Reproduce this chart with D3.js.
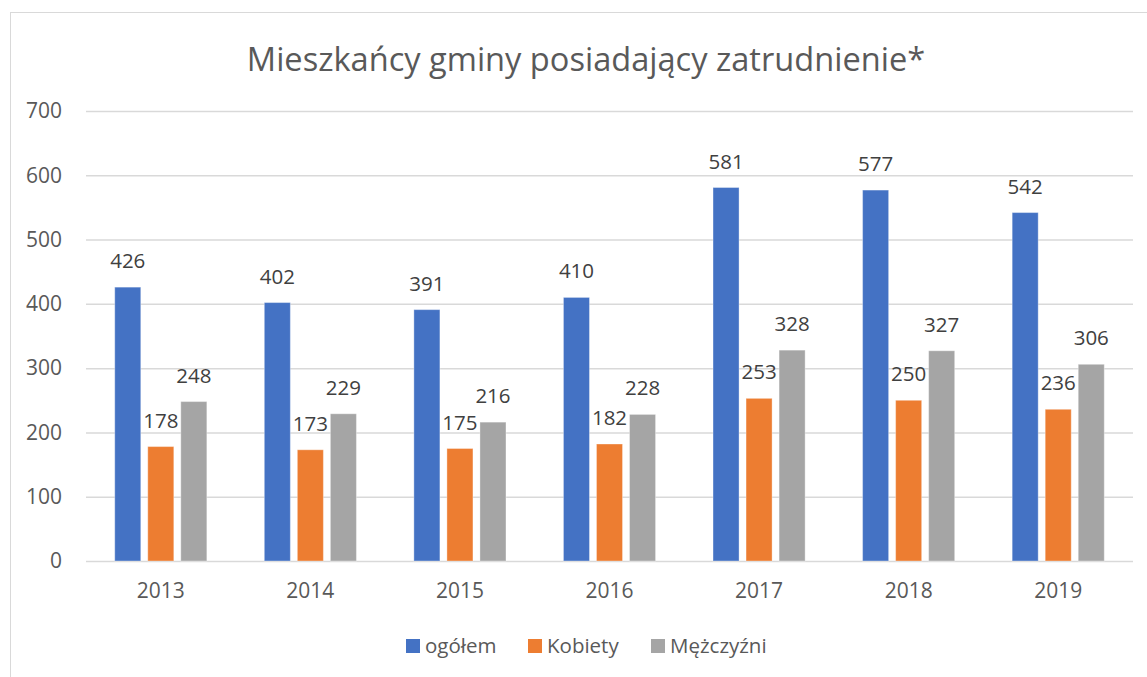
<!DOCTYPE html>
<html><head><meta charset="utf-8">
<script src="https://cdn.jsdelivr.net/npm/d3@7"></script>
<style>body{margin:0;background:#fff}svg{display:block;font-family:"Open Sans","Noto Sans",sans-serif}</style>
</head><body><svg id="c" width="1147" height="677"></svg>
<script>
const title = "Mieszkańcy gminy posiadający zatrudnienie*";
const years = ["2013","2014","2015","2016","2017","2018","2019"];
const seriesNames = ["ogółem","Kobiety","Mężczyźni"];
const ogolem = [426,402,391,410,581,577,542];
const kobiety = [178,173,175,182,253,250,236];
const mezczyzni = [248,229,216,228,328,327,306];
const colors = ["#4472C4","#ED7D31","#A5A5A5"];
const yTicks = [0,100,200,300,400,500,600,700];

const svg = d3.select("#c");
svg.append("rect").attr("x",10.5).attr("y",12.5).attr("width",1150).attr("height",700)
  .attr("fill","#fff").attr("stroke","#D9D9D9");

const x0 = d3.scaleBand().domain(years).range([86,1133]).paddingInner(0).paddingOuter(0);
const y = d3.scaleLinear().domain([0,700]).range([561,111]);
const x1 = d3.scaleBand().domain(seriesNames).range([0,x0.bandwidth()]).paddingInner(0.212).paddingOuter(0.87);

svg.append("text").attr("x",586).attr("y",71).attr("text-anchor","middle")
  .attr("font-size",32.6).attr("fill","#595959").text(title);

const yAxis = d3.axisLeft(y).tickValues(yTicks).tickSize(-(1133-86)).tickPadding(24);
const gy = svg.append("g").attr("transform","translate(86,0)").call(yAxis);
gy.select(".domain").remove();
gy.selectAll(".tick line").attr("stroke","#D9D9D9").attr("stroke-width",1.5);
gy.selectAll(".tick text").attr("font-size",21).attr("fill","#595959").attr("font-family","Open Sans");

const xAxis = d3.axisBottom(x0).tickSize(0).tickPadding(18);
const gx = svg.append("g").attr("transform","translate(0,561)").call(xAxis);
gx.select(".domain").remove();
gx.selectAll(".tick text").attr("font-size",21).attr("fill","#595959").attr("font-family","Open Sans").attr("dy","0.9em");

const all = [ogolem,kobiety,mezczyzni];
const rows = [];
years.forEach((yr,i)=>all.forEach((arr,j)=>rows.push({yr,s:seriesNames[j],v:arr[i],c:colors[j]})));

const g = svg.append("g");
g.selectAll("rect").data(rows).join("rect")
  .attr("x",d=>x0(d.yr)+x1(d.s)).attr("width",x1.bandwidth())
  .attr("y",d=>y(d.v)).attr("height",d=>y(0)-y(d.v))
  .attr("fill",d=>d.c).attr("stroke","#fff").attr("stroke-opacity",0.35).attr("stroke-width",1);
g.selectAll("text").data(rows).join("text")
  .attr("x",d=>x0(d.yr)+x1(d.s)+x1.bandwidth()/2).attr("y",d=>y(d.v)-19)
  .attr("text-anchor","middle").attr("font-size",20.5).attr("fill","#404040").text(d=>d.v);

const legX = [406,528,651];
const lg = svg.append("g");
seriesNames.forEach((s,i)=>{
  lg.append("rect").attr("x",legX[i]).attr("y",639).attr("width",14).attr("height",14).attr("fill",colors[i]);
  lg.append("text").attr("x",legX[i]+19).attr("y",653).attr("font-size",20.5).attr("fill","#595959").text(s);
});
</script></body></html>
